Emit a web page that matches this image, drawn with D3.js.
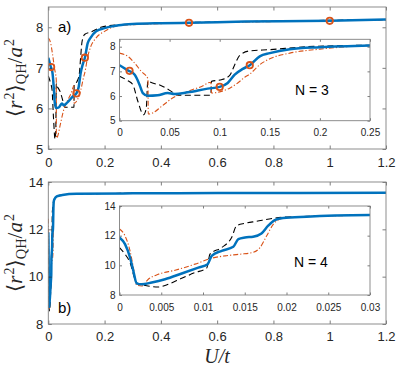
<!DOCTYPE html>
<html>
<head>
<meta charset="utf-8">
<script src="https://cdn.jsdelivr.net/npm/d3@7"></script>
<style>
body { margin: 0; background: #fff; }
</style>
</head>
<body>
<div id="chart"></div>
<script>
const blue = '#0072bd'
const orange = '#d95319'
const axisColor = '#262626'

// N = 3 (panel a)
const n3BlueU = [0, 0.0083, 0.015, 0.02, 0.0233, 0.0283, 0.038, 0.048, 0.055, 0.068, 0.088, 0.1, 0.108, 0.115, 0.123, 0.13, 0.14, 0.15, 0.17, 0.2, 0.25, 0.3, 0.4, 0.5, 0.7, 1.0, 1.2]
const n3BlueR = [7.25, 7.04, 6.87, 6.46, 6.12, 6.01, 6.03, 6.12, 6.08, 6.15, 6.30, 6.37, 6.53, 6.87, 7.1, 7.25, 7.61, 7.74, 7.9, 7.98, 8.05, 8.08, 8.1, 8.11, 8.14, 8.16, 8.19]
const n3DashU = [0, 0.0083, 0.0133, 0.0183, 0.024, 0.0267, 0.0283, 0.03, 0.0417, 0.0517, 0.058, 0.075, 0.0912, 0.0918, 0.1017, 0.11, 0.115, 0.12, 0.13, 0.15, 0.187, 0.25, 0.4, 0.7, 1.2]
const n3DashR = [6.8, 6.62, 6.46, 5.79, 5.24, 5.5, 6.62, 6.58, 6.42, 6.19, 6.03, 6.03, 6.03, 6.6, 6.66, 6.84, 7.27, 7.65, 7.83, 7.88, 8.0, 8.06, 8.1, 8.14, 8.19]
const n3DotDashU = [0, 0.0083, 0.015, 0.0217, 0.0284, 0.0287, 0.033, 0.042, 0.053, 0.068, 0.082, 0.0912, 0.0918, 0.1017, 0.11, 0.118, 0.125, 0.13, 0.14, 0.15, 0.17, 0.2, 0.25, 0.4, 0.7, 1.2]
const n3DotDashR = [7.74, 7.61, 7.34, 7.0, 6.7, 5.27, 5.31, 5.58, 5.92, 6.19, 6.39, 6.56, 6.12, 6.19, 6.32, 6.53, 6.76, 6.89, 7.27, 7.51, 7.74, 7.9, 8.04, 8.09, 8.13, 8.18]
const n3MarkU = [0.01, 0.1, 0.13, 0.5, 1.0]
const n3MarkR = [7.02, 6.37, 7.25, 8.11, 8.16]

// N = 4 (panel b)
const n4BlueU = [0, 0.00066, 0.00126, 0.00166, 0.00206, 0.00266, 0.00386, 0.00545, 0.00745, 0.00944, 0.01056, 0.01104, 0.01224, 0.01363, 0.01423, 0.01503, 0.016, 0.017, 0.0178, 0.0186, 0.0196, 0.0224, 0.03, 0.05, 0.1, 0.3, 0.6, 1.2]
const n4BlueR = [11.88, 11.43, 10.53, 9.62, 8.79, 8.72, 8.84, 9.06, 9.45, 9.85, 10.08, 10.64, 10.98, 11.25, 11.77, 11.88, 11.93, 12.15, 12.67, 13.05, 13.19, 13.28, 13.39, 13.45, 13.5, 13.52, 13.53, 13.55]
const n4DashU = [0, 0.00066, 0.00126, 0.00186, 0.00226, 0.00286, 0.00465, 0.00585, 0.00745, 0.00904, 0.01044, 0.01084, 0.01224, 0.01343, 0.01403, 0.01503, 0.01643, 0.01843, 0.0196, 0.0224, 0.03, 0.05, 0.1, 0.3, 0.6, 1.2]
const n4DashR = [11.2, 10.75, 10.19, 9.06, 8.72, 8.66, 8.54, 8.72, 9.13, 9.51, 9.81, 10.75, 11.2, 11.88, 12.67, 12.83, 12.97, 13.17, 13.24, 13.3, 13.39, 13.45, 13.5, 13.52, 13.53, 13.55]
const n4DotDashU = [0, 0.00066, 0.00126, 0.00166, 0.00206, 0.00266, 0.00345, 0.00465, 0.00665, 0.00904, 0.01104, 0.01264, 0.01443, 0.016, 0.01683, 0.01763, 0.01843, 0.01922, 0.02, 0.0224, 0.03, 0.05, 0.1, 0.3, 0.6, 1.2]
const n4DotDashR = [12.45, 11.99, 10.98, 9.85, 8.66, 8.61, 9.06, 9.4, 9.67, 10.08, 10.48, 10.64, 10.75, 10.87, 11.2, 11.99, 12.78, 13.12, 13.24, 13.29, 13.38, 13.45, 13.5, 13.52, 13.53, 13.55]

// tick values
const mainXTicks = [0, 0.2, 0.4, 0.6, 0.8, 1, 1.2]
const aYTicks = [5, 6, 7, 8]
const aInsetXTicks = [0, 0.05, 0.1, 0.15, 0.2, 0.25]
const bYTicks = [8, 10, 12, 14]
const bInsetXTicks = [0, 0.005, 0.01, 0.015, 0.02, 0.025, 0.03]

const width = 398
const height = 370
const fmt = d3.format('~g')

const svg = d3.select('#chart').append('svg')
    .attr('width', width)
    .attr('height', height)
    .attr('font-family', 'Liberation Sans, Arial, sans-serif')

const zip = (u, r) => u.map((d, i) => [d, r[i]])

let clipId = 0

function panel(opts) {
    const x = d3.scaleLinear().domain(opts.xDomain).range(opts.xRange)
    const y = d3.scaleLinear().domain(opts.yDomain).range(opts.yRange)
    const [x0, x1] = opts.xRange
    const [y0, y1] = opts.yRange
    const g = svg.append('g')
    const id = 'clip' + (clipId++)

    g.append('clipPath').attr('id', id)
        .append('rect')
        .attr('x', x0).attr('y', y1).attr('width', x1 - x0).attr('height', y0 - y1)

    if (opts.background) {
        g.append('rect')
            .attr('x', x0).attr('y', y1).attr('width', x1 - x0).attr('height', y0 - y1)
            .attr('fill', '#fff')
    }

    const plot = g.append('g').attr('clip-path', `url(#${id})`)
    const line = d3.line().x(d => x(d[0])).y(d => y(d[1])).curve(d3.curveMonotoneX)

    opts.series.forEach(s => {
        plot.append('path')
            .datum(zip(s.u, s.r))
            .attr('fill', 'none')
            .attr('stroke', s.color)
            .attr('stroke-width', s.width)
            .attr('stroke-dasharray', s.dash || null)
            .attr('stroke-linejoin', 'round')
            .attr('d', line)
    })

    if (opts.marks) {
        plot.selectAll('circle')
            .data(zip(opts.marks.u, opts.marks.r))
            .enter()
            .append('circle')
            .attr('cx', d => x(d[0]))
            .attr('cy', d => y(d[1]))
            .attr('r', 3.2)
            .attr('fill', 'none')
            .attr('stroke', orange)
            .attr('stroke-width', 1.8)
    }

    const tl = opts.tickLen
    const styleAxis = sel => {
        sel.select('.domain').remove()
        sel.attr('color', axisColor).attr('font-family', null).attr('font-size', null)
        sel.selectAll('line').attr('stroke-width', 0.6)
        sel.selectAll('text').attr('font-size', opts.fontSize).attr('fill', axisColor)
    }

    g.append('g').attr('transform', `translate(0,${y0})`)
        .call(d3.axisBottom(x).tickValues(opts.xTicks).tickFormat(fmt)
            .tickSizeInner(-tl).tickSizeOuter(0).tickPadding(opts.xPad))
        .call(styleAxis)
    g.append('g').attr('transform', `translate(0,${y1})`)
        .call(d3.axisTop(x).tickValues(opts.xTicks).tickFormat('')
            .tickSizeInner(-tl).tickSizeOuter(0))
        .call(styleAxis)
    g.append('g').attr('transform', `translate(${x0},0)`)
        .call(d3.axisLeft(y).tickValues(opts.yTicks).tickFormat(fmt)
            .tickSizeInner(-tl).tickSizeOuter(0).tickPadding(opts.yPad))
        .call(styleAxis)
    g.append('g').attr('transform', `translate(${x1},0)`)
        .call(d3.axisRight(y).tickValues(opts.yTicks).tickFormat('')
            .tickSizeInner(-tl).tickSizeOuter(0))
        .call(styleAxis)

    g.append('rect')
        .attr('x', x0).attr('y', y1).attr('width', x1 - x0).attr('height', y0 - y1)
        .attr('fill', 'none')
        .attr('stroke', '#808080')
        .attr('stroke-width', 0.9)

    return { g, x, y }
}

const seriesN3 = [
    { u: n3DashU, r: n3DashR, color: '#000', width: 1.1, dash: '6,3.5' },
    { u: n3DotDashU, r: n3DotDashR, color: orange, width: 1.1, dash: '5,2,1.2,2' },
    { u: n3BlueU, r: n3BlueR, color: blue, width: 2.5 }
]
const seriesN4 = [
    { u: n4DashU, r: n4DashR, color: '#000', width: 1.1, dash: '6,3.5' },
    { u: n4DotDashU, r: n4DotDashR, color: orange, width: 1.1, dash: '5,2,1.2,2' },
    { u: n4BlueU, r: n4BlueR, color: blue, width: 2.5 }
]

// panel a
panel({
    xDomain: [0, 1.2], xRange: [48.3, 386],
    yDomain: [5, 8.5], yRange: [149, 7],
    xTicks: mainXTicks, yTicks: aYTicks,
    series: seriesN3, marks: { u: n3MarkU, r: n3MarkR },
    tickLen: 3.5, fontSize: 13, xPad: 8.5, yPad: 5
})
panel({
    xDomain: [0, 0.25], xRange: [119.5, 370],
    yDomain: [5, 8.3], yRange: [120.7, 39.3],
    xTicks: aInsetXTicks, yTicks: aYTicks,
    series: seriesN3, marks: { u: n3MarkU, r: n3MarkR },
    tickLen: 2.5, fontSize: 10, xPad: 8.5, yPad: 4, background: true
})

// panel b
panel({
    xDomain: [0, 1.2], xRange: [48.3, 386],
    yDomain: [8, 14], yRange: [324, 182],
    xTicks: mainXTicks, yTicks: bYTicks,
    series: seriesN4,
    tickLen: 3.5, fontSize: 13, xPad: 8, yPad: 5
})
panel({
    xDomain: [0, 0.03], xRange: [119.5, 370],
    yDomain: [8, 14], yRange: [295, 206],
    xTicks: bInsetXTicks, yTicks: bYTicks,
    series: seriesN4,
    tickLen: 2.5, fontSize: 10, xPad: 9, yPad: 4, background: true
})

// labels
svg.append('text').attr('x', 58).attr('y', 32).attr('font-size', 15).attr('fill', '#000').text('a)')
svg.append('text').attr('x', 58).attr('y', 313).attr('font-size', 15).attr('fill', '#000').text('b)')
svg.append('text').attr('x', 295).attr('y', 94.5).attr('font-size', 14).attr('fill', '#000').text('N = 3')
svg.append('text').attr('x', 294).attr('y', 267).attr('font-size', 14).attr('fill', '#000').text('N = 4')

function yLabel(cy) {
    const t = svg.append('text')
        .attr('transform', `translate(22,${cy}) rotate(-90)`)
        .attr('text-anchor', 'middle')
        .attr('font-family', 'Liberation Serif, DejaVu Serif, serif')
        .attr('font-size', 21)
        .attr('fill', axisColor)
    t.append('tspan').text('\u27e8')
    t.append('tspan').attr('font-style', 'italic').text('r')
    t.append('tspan').attr('font-size', 14).attr('dy', -8).attr('dx', 1).text('2')
    t.append('tspan').attr('dy', 8).text('\u27e9')
    t.append('tspan').attr('font-size', 14.5).attr('dy', 4).text('QH')
    t.append('tspan').attr('dy', -4).text('/')
    t.append('tspan').attr('font-style', 'italic').text('a')
    t.append('tspan').attr('font-size', 14).attr('dy', -8).attr('dx', 1).text('2')
}
yLabel(78)
yLabel(253)

svg.append('text')
    .attr('x', 217).attr('y', 363)
    .attr('text-anchor', 'middle')
    .attr('font-family', 'Liberation Serif, DejaVu Serif, serif')
    .attr('font-size', 20)
    .attr('font-style', 'italic')
    .attr('fill', axisColor)
    .text('U/t')
</script>
</body>
</html>
